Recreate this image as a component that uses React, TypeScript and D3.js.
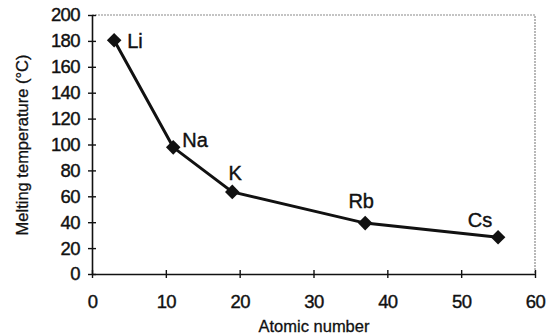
import React, { useEffect, useRef } from "react";
import * as d3 from "d3";

const elements = ["Li", "Na", "K", "Rb", "Cs"];
const atomicNumbers = [3, 11, 19, 37, 55];
const meltingPoints = [180.5, 97.8, 63.4, 39.3, 28.4];
const xTicks = [0, 10, 20, 30, 40, 50, 60];
const yTicks = [0, 20, 40, 60, 80, 100, 120, 140, 160, 180, 200];

// label offsets relative to the marker (dx, dy, anchor)
const labelPos: [number, number, string][] = [
  [13, 1, "start"],
  [9, -7, "start"],
  [3, -19, "middle"],
  [-4, -22, "middle"],
  [-18, -17, "middle"],
];

const App = () => {
  const ref = useRef<SVGSVGElement>(null);

  useEffect(() => {
    const svg = d3.select(ref.current);
    svg.selectAll("*").remove();

    const x = d3.scaleLinear().domain([0, 60]).range([92, 535]);
    const y = d3.scaleLinear().domain([0, 200]).range([274, 15]);
    const font = "Arial, 'Liberation Sans', sans-serif";

    // top / right frame (light dotted)
    svg.append("path")
      .attr("d", `M${x(0)},${y(200)}H${x(60)}V${y(0)}`)
      .attr("fill", "none")
      .attr("stroke", "#8a8a8a")
      .attr("stroke-width", 1.2)
      .attr("stroke-dasharray", "2,1");

    const yAxis = svg.append("g").attr("transform", `translate(${x(0)},0)`)
      .call(d3.axisLeft(y).tickValues(yTicks).tickSize(4).tickSizeOuter(0).tickPadding(8));
    yAxis.selectAll("line").attr("x2", -4).attr("x1", 4);
    const xAxis = svg.append("g").attr("transform", `translate(0,${y(0)})`)
      .call(d3.axisBottom(x).tickValues(xTicks).tickSize(4).tickSizeOuter(0).tickPadding(17));
    xAxis.selectAll("line").attr("y1", -4).attr("y2", 4);

    [yAxis, xAxis].forEach((a) => {
      a.select(".domain").attr("stroke", "#111").attr("stroke-width", 1.6);
      a.selectAll("line").attr("stroke", "#111").attr("stroke-width", 1.4);
      a.selectAll("text")
        .attr("fill", "#111")
        .attr("stroke", "#111")
        .attr("stroke-width", 0.4)
        .style("font-family", font)
        .style("font-size", "18.5px")
        .style("letter-spacing", "-0.6px");
    });

    svg.append("text")
      .attr("x", 314)
      .attr("y", 332)
      .attr("text-anchor", "middle")
      .style("font-family", font)
      .style("font-size", "16.5px")
      .attr("fill", "#111")
      .attr("stroke", "#111")
      .attr("stroke-width", 0.3)
      .text("Atomic number");

    svg.append("text")
      .attr("transform", `translate(28,145) rotate(-90)`)
      .attr("text-anchor", "middle")
      .style("font-family", font)
      .style("font-size", "16.5px")
      .attr("fill", "#111")
      .attr("stroke", "#111")
      .attr("stroke-width", 0.3)
      .text("Melting temperature (\u00b0C)");

    const pts = atomicNumbers.map((a, i) => [a, meltingPoints[i]] as [number, number]);
    const line = d3.line<[number, number]>().x((d) => x(d[0])).y((d) => y(d[1]));
    svg.append("path").datum(pts)
      .attr("fill", "none")
      .attr("stroke", "#111")
      .attr("stroke-width", 3)
      .attr("d", line);

    const diamond = d3.symbol().type(d3.symbolDiamond2).size(135);
    svg.selectAll("path.pt").data(pts).enter().append("path")
      .attr("class", "pt")
      .attr("transform", (d) => `translate(${x(d[0])},${y(d[1])})`)
      .attr("d", diamond)
      .attr("fill", "#111");

    svg.selectAll("text.lbl").data(pts).enter().append("text")
      .attr("class", "lbl")
      .attr("x", (d, i) => x(d[0]) + labelPos[i][0])
      .attr("y", (d, i) => y(d[1]) + labelPos[i][1])
      .attr("dy", "0.35em")
      .attr("text-anchor", (d, i) => labelPos[i][2])
      .style("font-family", font)
      .style("font-size", "20px")
      .attr("fill", "#111")
      .attr("stroke", "#111")
      .attr("stroke-width", 0.4)
      .text((d, i) => elements[i]);
  }, []);

  return <svg ref={ref} width={554} height={336} style={{ position: "absolute", left: 0, top: 0 }}></svg>;
};

export default App;
